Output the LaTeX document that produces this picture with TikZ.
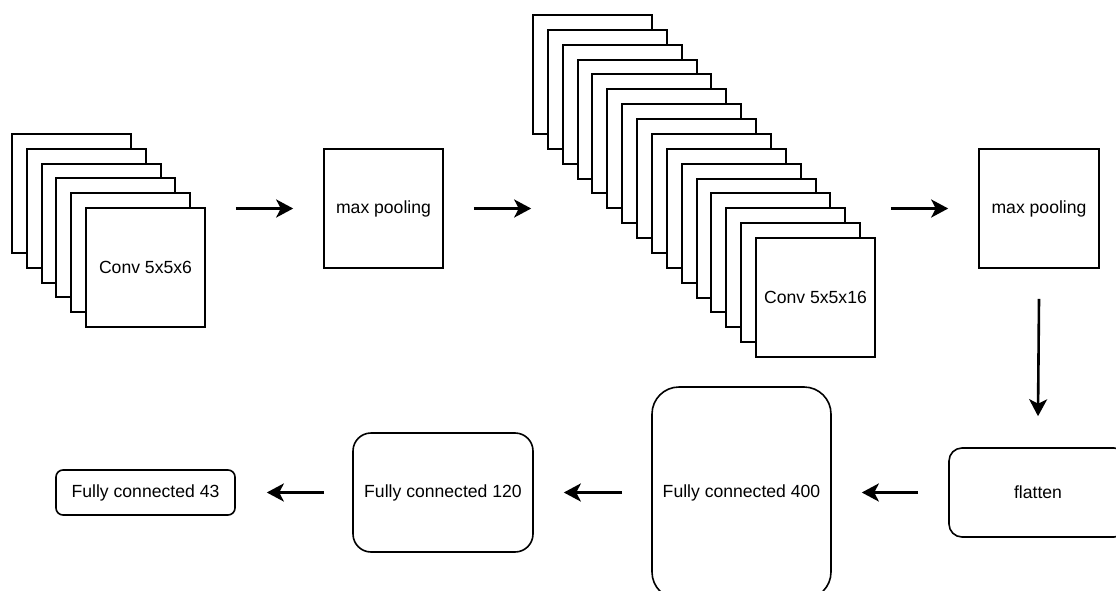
\documentclass[tikz,border=0pt]{standalone}
\usepackage{fontspec}
\setmainfont{Liberation Sans}
\usetikzlibrary{arrows.meta}
\begin{document}
\begin{tikzpicture}[x=1pt,y=-1pt,
  every node/.style={font=\fontsize{17.6}{21}\selectfont, text=black},
  sq/.style={draw=black, line width=1.6pt, fill=white, minimum width=119pt, minimum height=119pt, inner sep=0pt},
  fcbox/.style={draw=black, line width=1.6pt, fill=white, inner sep=0pt},
  arr/.style={line width=2.6pt, -{Stealth[length=17pt, width=18pt, inset=4.5pt]}}
]
\useasboundingbox (0,0) rectangle (1116,591);
\clip (0,0) rectangle (1116,591);

% first convolution stack (6 feature maps)
\foreach \i in {0,...,4}
  \node[sq] (s1-\i) at ({71.5+round(14.8*\i)},{193.5+round(14.8*\i)}) {};
\node[sq] (s1-5) at (145.5,267.5) {Conv 5x5x6};

% first pooling layer
\node[sq] (mp1) at (383.5,208.5) {max pooling};

% second convolution stack (16 feature maps)
\foreach \i in {0,...,14}
  \node[sq] (s2-\i) at ({592.5+round(14.87*\i)},{74.5+round(14.87*\i)}) {};
\node[sq] (s2-15) at (815.5,297.5) {Conv 5x5x16};

% second pooling layer
\node[sq, minimum width=120pt] (mp2) at (1039,208.5) {max pooling};

% dense part
\node[fcbox, rounded corners=13pt, minimum width=178pt, minimum height=89pt] (flat) at (1038,492.5) {flatten};
\node[fcbox, rounded corners=27pt, minimum width=179pt, minimum height=212pt] (fc400) at (741.5,493) {Fully connected 400};
\node[fcbox, rounded corners=18pt, minimum width=180pt, minimum height=119pt] (fc120) at (443,492.5) {Fully connected 120};
\node[fcbox, rounded corners=7pt, minimum width=179pt, minimum height=45pt] (fc43) at (145.5,492.5) {Fully connected 43};

% connectors
\draw[arr] ([xshift=30pt]s1-5.east |- mp1.west) -- ([xshift=-30pt]mp1.west);
\draw[arr] ([xshift=30pt]mp1.east) -- ([xshift=-1pt]s2-0.west |- mp1.east);
\draw[arr] ([xshift=15pt]s2-15.east |- mp2.west) -- ([xshift=-30pt]mp2.west);
\draw[arr] ([yshift=-30pt]mp2.south) -- ([yshift=31pt]flat.north);
\draw[arr] ([xshift=-30pt]flat.west) -- ([xshift=30pt]fc400.east |- flat.west);
\draw[arr] ([xshift=-29pt]fc400.west |- fc120.east) -- ([xshift=30pt]fc120.east);
\draw[arr] ([xshift=-28pt]fc120.west) -- ([xshift=31pt]fc43.east);
\end{tikzpicture}
\end{document}
